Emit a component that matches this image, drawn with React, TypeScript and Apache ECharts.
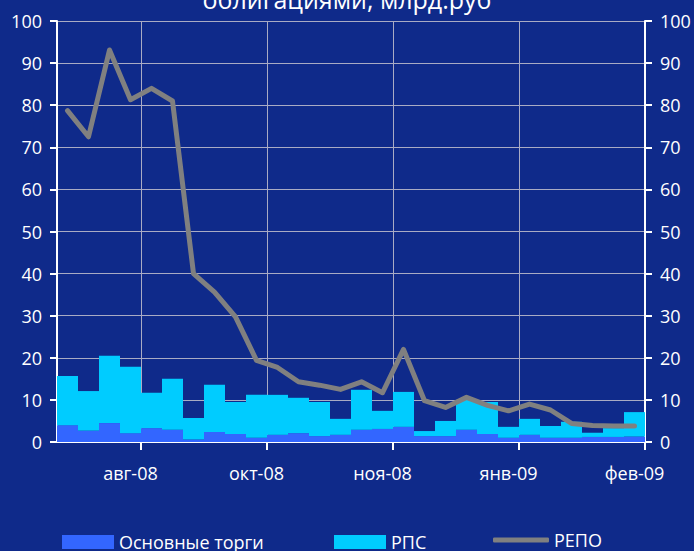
import React, { useEffect, useRef } from "react";
import * as echarts from "echarts";

// 28 weekly observations; only every 6th carries a visible label
const categories: string[] = [
  "", "", "", "авг-08", "", "",
  "", "", "", "окт-08", "", "",
  "", "", "", "ноя-08", "", "",
  "", "", "", "янв-09", "", "",
  "", "", "", "фев-09",
];

// Основные торги (bottom of the stack)
const mainTrades: number[] = [
  4.0, 2.7, 4.5, 2.1, 3.3, 2.9, 0.6, 2.4, 1.9, 1.0, 1.7, 2.1, 1.4, 1.7,
  2.9, 3.1, 3.6, 1.4, 1.4, 2.9, 1.9, 1.0, 1.7, 1.0, 1.0, 1.2, 1.2, 1.3,
];

// РПС (stacked on top)
const rpsTrades: number[] = [
  11.7, 9.4, 16.0, 15.8, 8.4, 12.1, 5.1, 11.2, 7.6, 10.2, 9.5, 8.4, 8.1, 3.8,
  9.5, 4.3, 8.3, 1.2, 3.6, 7.1, 7.6, 2.6, 3.8, 2.8, 3.8, 1.0, 2.1, 5.8,
];

// РЕПО (line)
const repo: number[] = [
  78.7, 72.5, 93.1, 81.3, 84.0, 81.0, 40.0, 35.6, 29.7, 19.4, 17.7, 14.3, 13.5, 12.5,
  14.3, 11.7, 22.0, 9.8, 8.2, 10.6, 8.7, 7.4, 9.0, 7.6, 4.4, 3.9, 3.8, 3.8,
];

const seriesNames = ["Основные торги", "РПС", "РЕПО"];
const titleText = "облигациями, млрд.руб";

const BG = "#0f2a8a";
const GRID = "#a9abc4";
const FONT = "'Open Sans', 'Noto Sans', sans-serif";

export default function App() {
  const ref = useRef<HTMLDivElement>(null);

  useEffect(() => {
    if (!ref.current) return;
    const chart = echarts.init(ref.current, undefined, { renderer: "svg" });

    const yAxisCommon = {
      type: "value" as const,
      min: 0,
      max: 100,
      interval: 10,
      axisLine: { show: true, lineStyle: { color: "#ffffff", width: 2 } },
      axisTick: { show: true, length: 7, lineStyle: { color: "#ffffff", width: 2 } },
      axisLabel: { color: "#ffffff", fontSize: 18, fontFamily: FONT, margin: 15 },
    };

    const legendCommon = {
      top: 533,
      padding: 0,
      itemGap: 0,
      itemWidth: 52,
      itemHeight: 14,
      textStyle: { color: "#ffffff", fontSize: 18, fontFamily: FONT, lineHeight: 14 },
    };

    chart.setOption({
      animation: false,
      backgroundColor: BG,
      grid: { left: 57, right: 49, top: 21, bottom: 109, containLabel: false },
      graphic: [
        {
          type: "text",
          x: 347,
          y: -1,
          style: {
            text: titleText,
            fill: "#ffffff",
            font: `25px ${FONT}`,
            align: "center",
            verticalAlign: "middle",
          },
        },
      ],
      legend: [
        { ...legendCommon, left: 62, data: [{ name: seriesNames[0], icon: "rect" }] },
        { ...legendCommon, left: 334, data: [{ name: seriesNames[1], icon: "rect" }] },
        {
          ...legendCommon,
          top: 531,
          left: 493,
          itemWidth: 56,
          itemHeight: 5,
          textStyle: { color: "#ffffff", fontSize: 18, fontFamily: FONT, lineHeight: 5 },
          data: [
            {
              name: seriesNames[2],
              icon: "roundRect",
              itemStyle: { color: "#808080" },
            },
          ],
        },
      ],
      xAxis: {
        type: "category",
        data: categories,
        boundaryGap: true,
        axisLine: { show: true, lineStyle: { color: "#ffffff", width: 2 } },
        axisTick: {
          show: true,
          interval: (i: number) => i % 6 === 4,
          length: 8,
          lineStyle: { color: "#ffffff", width: 2 },
        },
        axisLabel: {
          interval: (i: number) => i % 6 === 3,
          margin: 22,
          color: "#ffffff",
          fontSize: 18,
          fontFamily: FONT,
        },
        splitLine: {
          show: true,
          interval: (i: number) => i % 6 === 4,
          lineStyle: { color: GRID, width: 1 },
        },
      },
      yAxis: [
        {
          ...yAxisCommon,
          position: "left",
          splitLine: { show: true, lineStyle: { color: GRID, width: 1 } },
        },
        {
          ...yAxisCommon,
          position: "right",
          splitLine: { show: false },
        },
      ],
      series: [
        {
          name: seriesNames[0],
          type: "bar",
          stack: "trades",
          data: mainTrades,
          barCategoryGap: "0%",
          itemStyle: { color: "#3366ff" },
          color: "#3366ff",
        },
        {
          name: seriesNames[1],
          type: "bar",
          stack: "trades",
          data: rpsTrades,
          barCategoryGap: "0%",
          itemStyle: { color: "#00ccff" },
          color: "#00ccff",
        },
        {
          name: seriesNames[2],
          type: "line",
          data: repo,
          symbol: "none",
          showSymbol: false,
          color: "#808080",
          lineStyle: { color: "#808080", width: 5, join: "round", cap: "round" },
          z: 5,
        },
      ],
    });

    return () => chart.dispose();
  }, []);

  return (
    <div
      ref={ref}
      style={{ position: "absolute", left: 0, top: 0, width: 694, height: 551 }}
    />
  );
}
